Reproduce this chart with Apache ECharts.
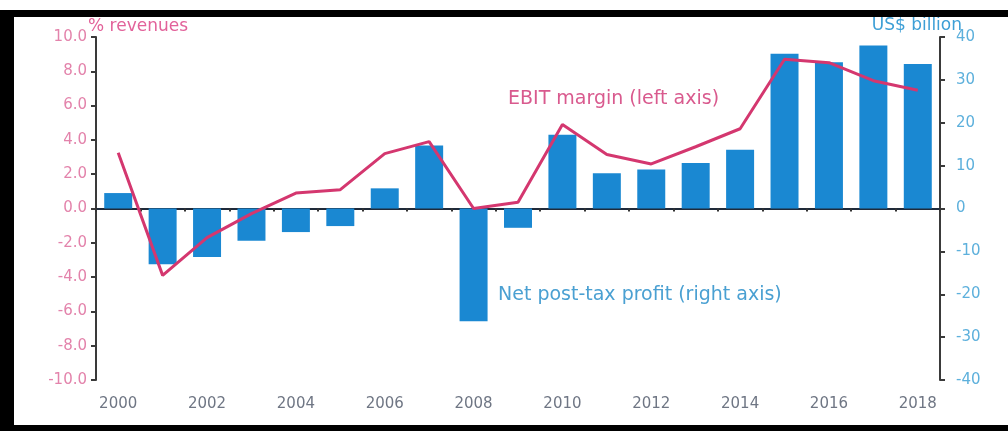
<!DOCTYPE html>
<html>
<head>
<meta charset="utf-8">
<script src="https://cdn.jsdelivr.net/npm/echarts@6/dist/echarts.min.js"></script>
<style>
html,body{margin:0;padding:0;background:#fff;}
#chart{width:1008px;height:431px;}
</style>
</head>
<body>
<div id="chart"></div>
<script>
const years = ['2000','2001','2002','2003','2004','2005','2006','2007','2008','2009','2010','2011','2012','2013','2014','2015','2016','2017','2018'];
const netProfit = [3.6, -13.0, -11.3, -7.5, -5.5, -4.1, 4.7, 14.7, -26.3, -4.5, 17.2, 8.2, 9.1, 10.6, 13.7, 36.1, 34.1, 38.0, 33.7];
const ebitMargin = [3.25, -3.9, -1.7, -0.3, 0.9, 1.1, 3.2, 3.9, 0.0, 0.37, 4.9, 3.15, 2.6, 3.6, 4.65, 8.7, 8.5, 7.45, 6.9];
const leftTicks = {min: -10, max: 10, interval: 2};
const rightTicks = {min: -40, max: 40, interval: 10};
const leftAxisName = '% revenues';
const rightAxisName = 'US$ billion';
const lineLabel = 'EBIT margin (left axis)';
const barLabel = 'Net post-tax profit (right axis)';

const FONT = '"DejaVu Sans", sans-serif';
const chart = echarts.init(document.getElementById('chart'));
chart.setOption({
  backgroundColor: '#ffffff',
  animation: false,
  grid: {left: 96, right: 68, top: 37, bottom: 51},
  xAxis: [{
    type: 'category', data: years, position: 'bottom',
    axisLine: {show: false, onZero: false}, axisTick: {show: false},
    axisLabel: {interval: 1, color: '#6f7684', fontFamily: FONT, fontSize: 15, margin: 17}
  }, {
    type: 'category', data: years, position: 'bottom',
    axisLine: {show: true, onZero: true, lineStyle: {color: '#1f2a3a', width: 2}},
    axisTick: {show: true, length: 3, lineStyle: {color: '#333', width: 2}},
    axisLabel: {show: false}
  }],
  yAxis: [{
    type: 'value', position: 'left', min: leftTicks.min, max: leftTicks.max, interval: leftTicks.interval,
    axisLine: {show: true, lineStyle: {color: '#3a3a3a', width: 2}},
    axisTick: {show: true, inside: false, length: 5, lineStyle: {color: '#3a3a3a', width: 2}},
    axisLabel: {color: '#e383ab', fontFamily: FONT, fontSize: 15, margin: 9, formatter: v => v.toFixed(1)},
    splitLine: {show: false}
  }, {
    type: 'value', position: 'right', min: rightTicks.min, max: rightTicks.max, interval: rightTicks.interval,
    axisLine: {show: true, lineStyle: {color: '#3a3a3a', width: 2}},
    axisTick: {show: true, inside: false, length: 5, lineStyle: {color: '#3a3a3a', width: 2}},
    axisLabel: {color: '#5db0dc', fontFamily: FONT, fontSize: 15, margin: 16},
    splitLine: {show: false}
  }],
  series: [{
    name: barLabel, type: 'bar', xAxisIndex: 0, yAxisIndex: 1, data: netProfit,
    barCategoryGap: '37%', itemStyle: {color: '#1a88d2'}, z: 2
  }, {
    name: lineLabel, type: 'line', xAxisIndex: 0, yAxisIndex: 0, data: ebitMargin,
    symbol: 'none', lineStyle: {color: '#d4376f', width: 3}, z: 4
  }],
  graphic: [
    {type: 'text', left: 88, top: 18, z: 10, style: {text: leftAxisName, fill: '#e2629a', font: '17px ' + FONT}},
    {type: 'text', right: 46, top: 17, z: 10, style: {text: rightAxisName, fill: '#3d9fd6', font: '17px ' + FONT}},
    {type: 'text', left: 508, top: 90, z: 10, style: {text: lineLabel, fill: '#d95a8e', font: '19px ' + FONT}},
    {type: 'text', left: 498, top: 286, z: 10, style: {text: barLabel, fill: '#4aa0d2', font: '19px ' + FONT}},
    {type: 'rect', shape: {x: 0, y: 10, width: 1008, height: 7}, style: {fill: '#000'}, z: 20},
    {type: 'rect', shape: {x: 0, y: 10, width: 14, height: 421}, style: {fill: '#000'}, z: 20},
    {type: 'rect', shape: {x: 0, y: 425, width: 1008, height: 6}, style: {fill: '#000'}, z: 20}
  ]
});
</script>
</body>
</html>
